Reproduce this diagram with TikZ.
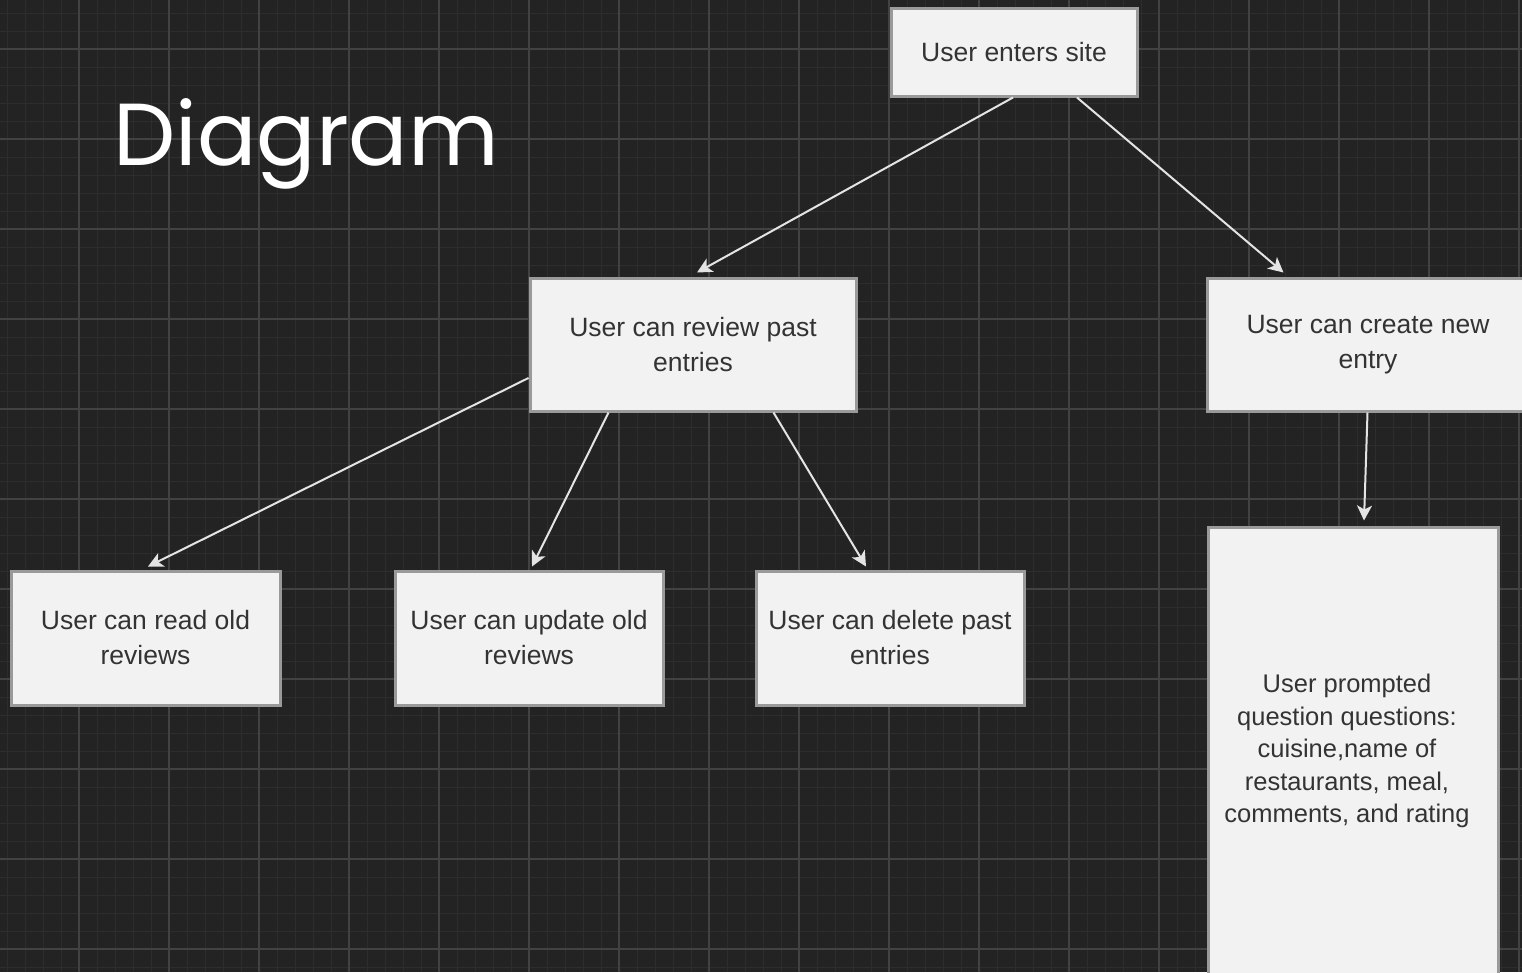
\documentclass[tikz,border=0pt]{standalone}
\usepackage{fontspec}
\setmainfont{Liberation Sans}
\newfontfamily\titlefont{Poppins}
\usetikzlibrary{arrows.meta,calc}
\definecolor{bg}{HTML}{232323}
\definecolor{gridminor}{HTML}{2D2D2D}
\definecolor{gridmajor}{HTML}{424242}
\definecolor{boxfill}{HTML}{F2F2F2}
\definecolor{boxline}{HTML}{9A9A9A}
\definecolor{txt}{HTML}{333333}
\definecolor{arrowc}{HTML}{E4E4E4}
\tikzset{
  box/.style={draw=boxline, line width=3pt, fill=boxfill, inner sep=0pt,
    align=center, text=txt, font=\fontsize{26.5}{35}\selectfont},
  conn/.style={draw=arrowc, line width=2pt,
    -{Stealth[length=15pt,width=15pt,inset=4pt,fill=arrowc]}},
}
\begin{document}
\begin{tikzpicture}[x=1pt,y=-1pt]
\useasboundingbox (0,0) rectangle (1522,972);
\clip (0,0) rectangle (1522,972);
\fill[bg] (0,0) rectangle (1522,972);
% minor grid
\foreach \i in {0,...,85} {
  \draw[gridminor, line width=1pt] ({7+18*\i},0) -- ({7+18*\i},972);
}
\foreach \j in {0,...,54} {
  \draw[gridminor, line width=1pt] (0,{13+18*\j}) -- (1522,{13+18*\j});
}
% major grid
\foreach \i in {0,...,17} {
  \draw[gridmajor, line width=1.3pt] ({-11+90*\i},0) -- ({-11+90*\i},972);
}
\foreach \j in {0,...,11} {
  \draw[gridmajor, line width=1.3pt] (0,{-41+90*\j}) -- (1522,{-41+90*\j});
}
% title
\node[anchor=base west, inner sep=0pt, text=white, font=\titlefont\fontsize{88}{100}\selectfont] (title) at (113,165) {Diagram};
% boxes
\node[box, minimum width=246pt, minimum height=88pt] (enter) at (1014,52) {User enters site};
\node[box, minimum width=326pt, minimum height=133pt] (review) at (693,344.5) {User can review past\\entries};
\node[box, minimum width=322pt, minimum height=133pt] (create) at (1368,344.5) {User can create new\\entry};
\node[box, minimum width=269pt, minimum height=134pt] (read) at (145.5,638) {User can read old\\reviews};
\node[box, minimum width=268pt, minimum height=134pt] (update) at (529,638) {User can update old\\reviews};
\node[box, minimum width=268pt, minimum height=134pt] (delete) at (890,638) {User can delete past\\entries};
\node[box, align=left, minimum width=290pt, minimum height=448pt, font=\fontsize{25.5}{32.5}\selectfont] (prompt) at (1353,751) {\begin{tabular}{@{}c@{}}User prompted\\question questions:\\cuisine,name of\\restaurants, meal,\\comments, and rating\end{tabular}\hspace*{12pt}};
% connectors
\draw[conn] ([xshift=-1pt]enter.south) -- ([xshift=4pt,yshift=4pt]review.north);
\draw[conn] ([xshift=63pt]enter.south) -- ([xshift=78pt,yshift=4pt]create.north west);
\draw[conn] ([yshift=-33.5pt]review.west) -- ([xshift=2.5pt,yshift=3pt]read.north);
\draw[conn] ([xshift=80pt]review.south west) -- ([xshift=3pt,yshift=3pt]update.north);
\draw[conn] ([xshift=245pt]review.south west) -- ([xshift=-24pt,yshift=3pt]delete.north);
\draw[conn] ([xshift=162pt]create.south west) -- ([xshift=11pt,yshift=5pt]prompt.north);
\end{tikzpicture}
\end{document}
